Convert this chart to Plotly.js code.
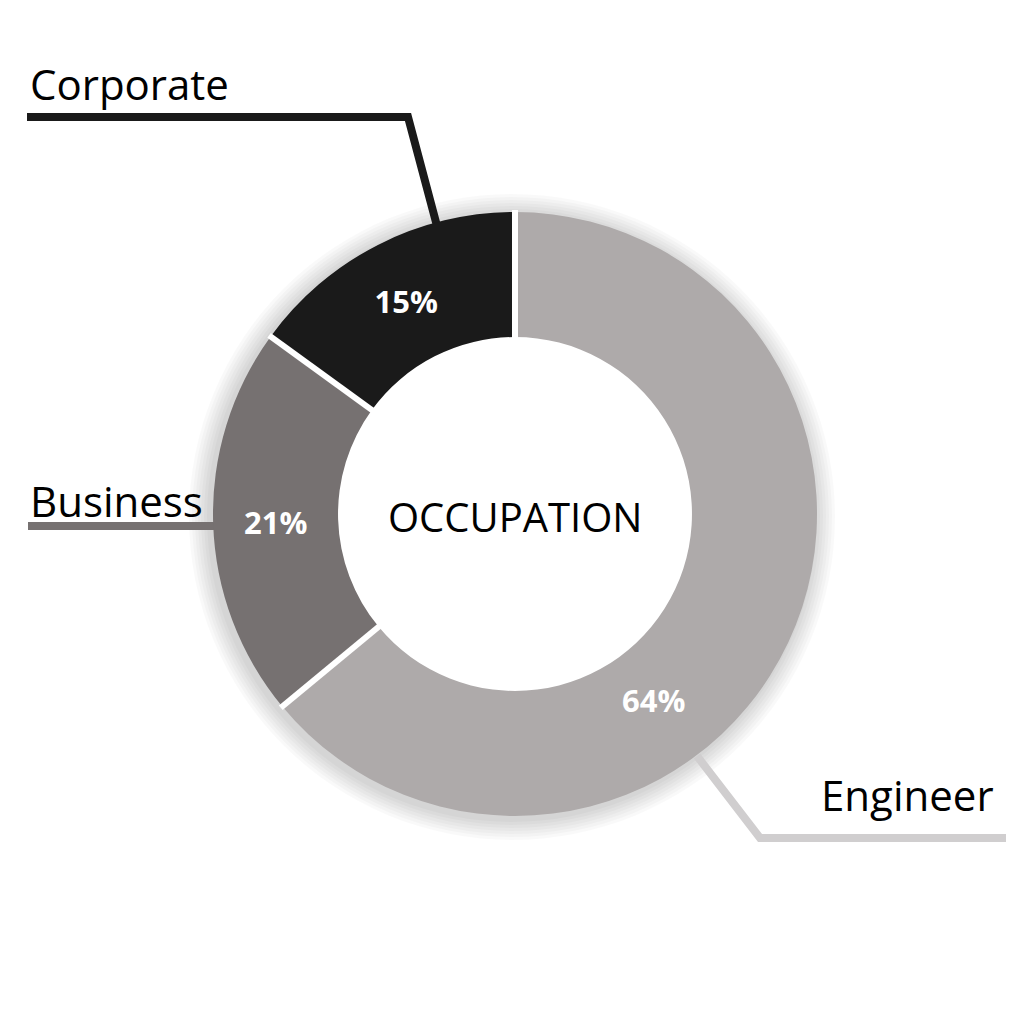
<!DOCTYPE html>
<html>
<head>
<meta charset="utf-8">
<script src="https://cdn.plot.ly/plotly-3.0.1.min.js"></script>
<style>
  html, body { margin: 0; padding: 0; background: #ffffff; }
  #chart { width: 1024px; height: 1016px; }
</style>
</head>
<body>
<div id="chart"></div>
<script>
// data
const labels = ["Engineer", "Business", "Corporate"];
const values = [64, 21, 15];
const colors = ["#aeaaaa", "#767171", "#1a1a1a"];
const lineColors = ["#d0cecf", "#767171", "#1a1a1a"];
const centerTitle = "OCCUPATION";

const W = 1024, H = 1016;
const px = x => x / W;
const py = y => (H - y) / H;

// donut geometry (pixels)
const cx = 515, cy = 514, R = 302, HOLE = 0.586;

const total = values.reduce((a, b) => a + b, 0);
const pct = values.map(v => Math.round(v / total * 100) + "%");

const circle = (x, y, r, fill, layer) => ({
    type: "circle", layer: layer, xref: "paper", yref: "paper",
    x0: px(x - r), x1: px(x + r), y0: py(y + r), y1: py(y - r),
    fillcolor: fill, line: { width: 0 }
});

const shapes = [];
// soft shadow behind the ring
for (let i = 1; i <= 7; i++) {
    shapes.push(circle(cx - 3, cy + 3, R + i * 3, "rgba(0,0,0,0.024)", "below"));
}
shapes.push(circle(cx, cy, R * HOLE + 2, "#ffffff", "below"));

// leader lines
const path = pts => pts.map((p, i) => (i ? "L" : "M") + px(p[0]) + "," + py(p[1])).join(" ");
const leaders = [
    [[697, 756], [760, 838], [1006, 838]],
    [[28, 526], [220, 526]],
    [[27, 117], [408, 117], [437, 226]]
];
leaders.forEach((pts, i) => {
    shapes.push({
        type: "path", layer: "below", xref: "paper", yref: "paper",
        path: path(pts), line: { color: lineColors[i], width: 8 }
    });
});

// white gaps between slices, at the slice boundaries
let cum = 0;
values.forEach(v => {
    const a = cum / total * 2 * Math.PI;
    const s = Math.sin(a), c = Math.cos(a);
    const r0 = R * HOLE - 2, r1 = R + 2;
    shapes.push({
        type: "line", layer: "above", xref: "paper", yref: "paper",
        x0: px(cx + s * r0), y0: py(cy - c * r0), x1: px(cx + s * r1), y1: py(cy - c * r1),
        line: { color: "#ffffff", width: 6 }
    });
    cum += v;
});

const labelFont = { family: "Open Sans, sans-serif", size: 42, color: "#000000" };
const pctFont = { family: "Open Sans, sans-serif", size: 31, color: "#ffffff", weight: 700 };
const annotations = [
    { x: px(996), y: py(794), xanchor: "right", yanchor: "middle", text: labels[0], font: labelFont },
    { x: px(28), y: py(500), xanchor: "left", yanchor: "middle", text: labels[1], font: labelFont },
    { x: px(28), y: py(84), xanchor: "left", yanchor: "middle", text: labels[2], font: labelFont },
    { x: px(cx), y: py(516), xanchor: "center", yanchor: "middle", text: centerTitle,
      font: { family: "Open Sans, sans-serif", size: 40, color: "#000000" } },
    { x: px(653), y: py(700), xanchor: "center", yanchor: "middle", text: pct[0], font: pctFont }
].map(a => Object.assign({ xref: "paper", yref: "paper", showarrow: false }, a));

const data = [{
    type: "pie",
    labels: labels,
    values: values,
    text: ["", pct[1], pct[2]],
    textinfo: "text",
    textposition: "inside",
    insidetextorientation: "horizontal",
    insidetextfont: pctFont,
    hole: HOLE,
    sort: false,
    direction: "clockwise",
    rotation: 0,
    marker: { colors: colors, line: { color: "#ffffff", width: 0 } },
    domain: { x: [px(cx - R), px(cx + R)], y: [py(cy + R), py(cy - R)] },
    showlegend: false,
    hoverinfo: "label+percent"
}];

const layout = {
    width: W,
    height: H,
    margin: { l: 0, r: 0, t: 0, b: 0 },
    paper_bgcolor: "#ffffff",
    showlegend: false,
    shapes: shapes,
    annotations: annotations
};

Plotly.newPlot("chart", data, layout, { displayModeBar: false, staticPlot: true });
</script>
</body>
</html>
